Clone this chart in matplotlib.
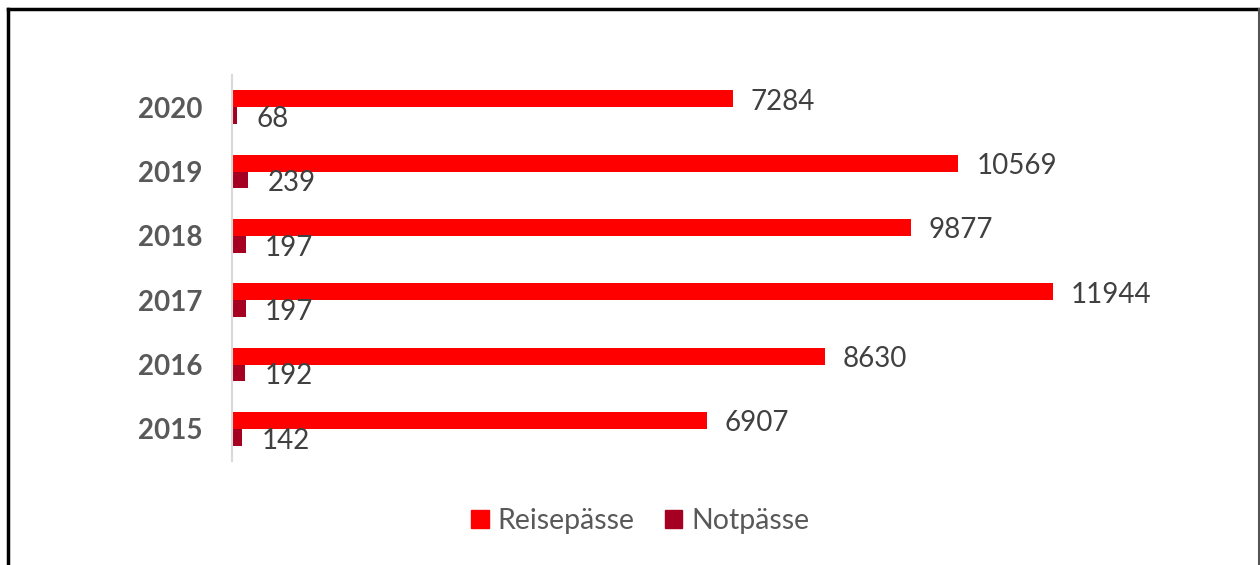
import matplotlib
matplotlib.use("Agg")
import matplotlib.pyplot as plt
import numpy as np
from matplotlib.lines import Line2D
from matplotlib.patches import Patch

years = ["2015", "2016", "2017", "2018", "2019", "2020"]
reisepaesse = [6907, 8630, 11944, 9877, 10569, 7284]
notpaesse = [142, 192, 197, 197, 239, 68]
series_names = ["Reisepässe", "Notpässe"]

plt.rcParams['font.family'] = ['Lato', 'DejaVu Sans']

fig = plt.figure(figsize=(12.6, 5.65), dpi=100)
ax = fig.add_axes([232/1260, (565-461)/565, 962/1260, 386/565])

y = np.arange(len(years))
h = 0.26
c1 = "#FF0000"
c2 = "#A50021"
b1 = ax.barh(y + 0.13, reisepaesse, height=h, color=c1)
b2 = ax.barh(y - 0.13, notpaesse, height=h, color=c2)

t1 = ax.bar_label(b1, labels=[str(v) for v in reisepaesse], padding=13, fontsize=20, color="#404040")
t2 = ax.bar_label(b2, labels=[str(v) for v in notpaesse], padding=14, fontsize=20, color="#404040")
for t in t1:
    t.xyann = (13, -2)
for t in t2:
    t.xyann = (14, -2.5)

ax.set_xlim(0, 14000)
ax.set_ylim(-0.5, len(years) - 0.5)
ax.set_yticks(y)
ax.set_yticklabels(years, fontsize=20, fontweight='bold', color="#595959")
ax.tick_params(axis='y', length=0, pad=21.5)
ax.set_xticks([])
for s in ["top", "right", "bottom"]:
    ax.spines[s].set_visible(False)
ax.spines["left"].set_color("#D9D9D9")
ax.spines["left"].set_linewidth(1.5)

handles = [Patch(color=c1), Patch(color=c2)]
fig.legend(handles, series_names, loc='center', bbox_to_anchor=(0.508, 0.078), ncol=2,
           frameon=False, fontsize=20.5, labelcolor="#595959",
           handlelength=0.62, handleheight=0.62, handletextpad=0.3, columnspacing=1.07)

# outer frame
fig.add_artist(Line2D([8/1260, 8/1260], [0, 1 - 9/565], transform=fig.transFigure, color="black", lw=2.5))
fig.add_artist(Line2D([8/1260, 1259/1260], [1 - 9/565, 1 - 9/565], transform=fig.transFigure, color="black", lw=2.5))
fig.add_artist(Line2D([1258.5/1260, 1258.5/1260], [0, 1 - 9/565], transform=fig.transFigure, color="#555555", lw=1.5))

fig.savefig("out.png", dpi=100, facecolor="white")
